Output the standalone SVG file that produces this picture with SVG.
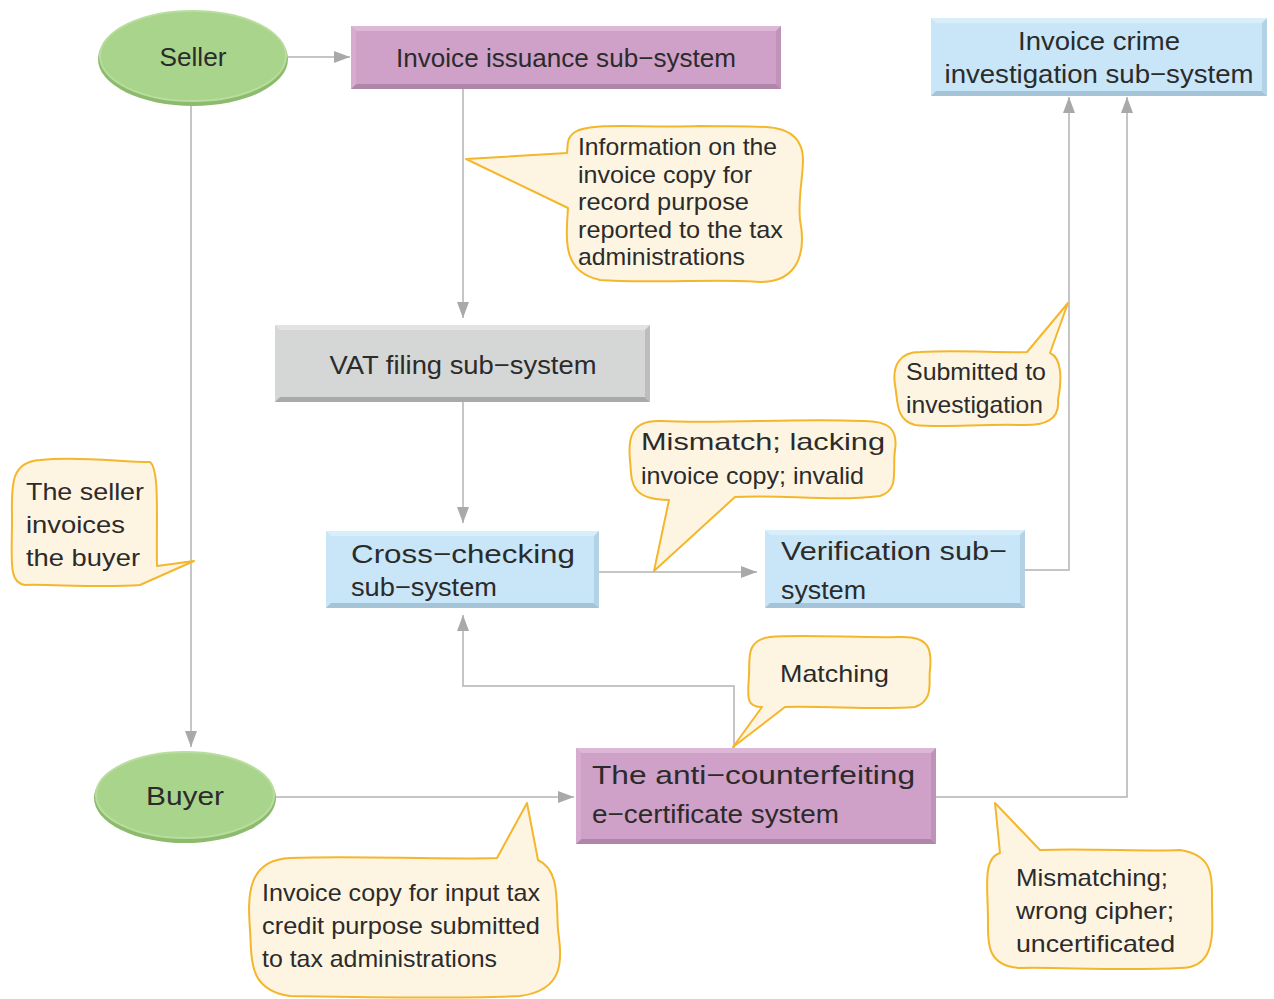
<svg xmlns="http://www.w3.org/2000/svg" width="1274" height="999" viewBox="0 0 1274 999">
<style>
text{font-family:"Liberation Sans","Noto Sans",Arial,sans-serif;fill:#2b2b2b;}
.bt{font-size:26px;}
.ct{font-size:24px;}
.conn{fill:none;stroke:#b3b3b3;stroke-width:1.5;}
.call{fill:#fef4e2;stroke:#f4b72c;stroke-width:2;stroke-linejoin:round;}
</style>
<defs>
<marker id="ah" viewBox="0 0 16 12" refX="16" refY="6" markerWidth="16" markerHeight="12" markerUnits="userSpaceOnUse" orient="auto">
<path d="M0,0 L16,6 L0,12 Z" fill="#a9a9a9"/>
</marker>
</defs>
<rect width="1274" height="999" fill="#ffffff"/>

<g id="connectors">
<path class="conn" d="M288,57 H350" marker-end="url(#ah)"/>
<path class="conn" d="M463,89 V318" marker-end="url(#ah)"/>
<path class="conn" d="M463,402 V523" marker-end="url(#ah)"/>
<path class="conn" d="M191,105 V747" marker-end="url(#ah)"/>
<path class="conn" d="M599,572 H757" marker-end="url(#ah)"/>
<path class="conn" d="M1025,570 H1069 V97" marker-end="url(#ah)"/>
<path class="conn" d="M734,748 V686 H463 V615" marker-end="url(#ah)"/>
<path class="conn" d="M276,797 H574" marker-end="url(#ah)"/>
<path class="conn" d="M936,797 H1127 V97" marker-end="url(#ah)"/>
</g>

<g id="seller">
<ellipse cx="193" cy="59" rx="95" ry="47" fill="#8dbb6d"/>
<ellipse cx="193" cy="56" rx="93" ry="45" fill="#a9d48b" stroke="#b8dd9e" stroke-width="2"/>
<text class="bt" x="193" y="66" text-anchor="middle" textLength="67" lengthAdjust="spacingAndGlyphs">Seller</text>
</g>

<g id="invoice-issuance">
<rect x="351" y="26" width="430" height="63" fill="#cfa0c8"/>
<polygon points="351,26 781,26 776,31 356,31" fill="#dcb7d6"/>
<polygon points="351,89 781,89 776,84 356,84" fill="#af85a8"/>
<polygon points="781,26 781,89 776,84 776,31" fill="#bf93b8"/>
<polygon points="351,26 351,89 356,84 356,31" fill="#d6abcf"/>
<text class="bt" x="566" y="67" text-anchor="middle" textLength="340" lengthAdjust="spacingAndGlyphs">Invoice issuance sub−system</text>
</g>

<g id="crime-investigation">
<rect x="931" y="18" width="336" height="78" fill="#c8e6f7"/>
<polygon points="931,18 1267,18 1262,23 936,23" fill="#d8eefa"/>
<polygon points="931,96 1267,96 1262,91 936,91" fill="#a5c3d6"/>
<polygon points="1267,18 1267,96 1262,91 1262,23" fill="#b4d2e5"/>
<text class="bt" x="1099" y="50" text-anchor="middle" textLength="162" lengthAdjust="spacingAndGlyphs">Invoice crime</text>
<text class="bt" x="1099" y="83" text-anchor="middle" textLength="309" lengthAdjust="spacingAndGlyphs">investigation sub−system</text>
</g>

<g id="vat-filing">
<rect x="275" y="325" width="375" height="77" fill="#d5d6d6"/>
<polygon points="275,325 650,325 645,330 280,330" fill="#e3e3e3"/>
<polygon points="275,402 650,402 645,397 280,397" fill="#a9a9a9"/>
<polygon points="650,325 650,402 645,397 645,330" fill="#bdbdbd"/>
<text class="bt" x="463" y="374" text-anchor="middle" textLength="267" lengthAdjust="spacingAndGlyphs">VAT filing sub−system</text>
</g>

<g id="cross-checking">
<rect x="326" y="531" width="273" height="77" fill="#c8e6f7"/>
<polygon points="326,531 599,531 594,536 331,536" fill="#d8eefa"/>
<polygon points="326,608 599,608 594,603 331,603" fill="#a5c3d6"/>
<polygon points="599,531 599,608 594,603 594,536" fill="#b4d2e5"/>
<text class="bt" x="351" y="563" textLength="224" lengthAdjust="spacingAndGlyphs">Cross−checking</text>
<text class="bt" x="351" y="596" textLength="146" lengthAdjust="spacingAndGlyphs">sub−system</text>
</g>

<g id="verification">
<rect x="765" y="530" width="260" height="78" fill="#c8e6f7"/>
<polygon points="765,530 1025,530 1020,535 770,535" fill="#d8eefa"/>
<polygon points="765,608 1025,608 1020,603 770,603" fill="#a5c3d6"/>
<polygon points="1025,530 1025,608 1020,603 1020,535" fill="#b4d2e5"/>
<text class="bt" x="781" y="560" textLength="226" lengthAdjust="spacingAndGlyphs">Verification sub−</text>
<text class="bt" x="781" y="599" textLength="85" lengthAdjust="spacingAndGlyphs">system</text>
</g>

<g id="anti-counterfeiting">
<rect x="576" y="748" width="360" height="96" fill="#cfa0c8"/>
<polygon points="576,748 936,748 931,753 581,753" fill="#dcb7d6"/>
<polygon points="576,844 936,844 931,839 581,839" fill="#af85a8"/>
<polygon points="936,748 936,844 931,839 931,753" fill="#bf93b8"/>
<polygon points="576,748 576,844 581,839 581,753" fill="#d6abcf"/>
<text class="bt" x="592" y="784" textLength="323" lengthAdjust="spacingAndGlyphs">The anti−counterfeiting</text>
<text class="bt" x="592" y="823" textLength="247" lengthAdjust="spacingAndGlyphs">e−certificate system</text>
</g>

<g id="buyer">
<ellipse cx="185" cy="798" rx="91" ry="45" fill="#8dbb6d"/>
<ellipse cx="185" cy="795" rx="89" ry="43" fill="#a9d48b" stroke="#b8dd9e" stroke-width="2"/>
<text class="bt" x="185" y="805" text-anchor="middle" textLength="78" lengthAdjust="spacingAndGlyphs">Buyer</text>
</g>

<g id="callout-info">
<path class="call" d="M567,153 L466,159 L568,208 C566,240 562,272 600,280 C650,284 720,278 760,282 C800,282 806,250 800,220 C797,190 808,160 800,145 C790,122 760,127 700,126 C640,128 590,122 575,132 C566,138 568,145 567,153 Z"/>
<text class="ct" x="578" y="155" textLength="199" lengthAdjust="spacingAndGlyphs">Information on the</text>
<text class="ct" x="578" y="183" textLength="174" lengthAdjust="spacingAndGlyphs">invoice copy for</text>
<text class="ct" x="578" y="210" textLength="171" lengthAdjust="spacingAndGlyphs">record purpose</text>
<text class="ct" x="578" y="238" textLength="205" lengthAdjust="spacingAndGlyphs">reported to the tax</text>
<text class="ct" x="578" y="265" textLength="167" lengthAdjust="spacingAndGlyphs">administrations</text>
</g>

<g id="callout-seller-invoices">
<path class="call" d="M40,460 C80,456 120,462 150,462 C160,470 156,520 157,566 L194,561 L140,585 C100,588 50,584 25,585 C8,583 12,560 12,520 C12,490 8,462 40,460 Z"/>
<text class="ct" x="26" y="500" textLength="118" lengthAdjust="spacingAndGlyphs">The seller</text>
<text class="ct" x="26" y="533" textLength="99" lengthAdjust="spacingAndGlyphs">invoices</text>
<text class="ct" x="26" y="566" textLength="114" lengthAdjust="spacingAndGlyphs">the buyer</text>
</g>

<g id="callout-mismatch">
<path class="call" d="M669,500 L654,571 L735,497 C780,494 830,502 880,496 C900,490 892,470 895,450 C898,430 890,420 860,421 C800,418 720,424 660,421 C630,420 628,440 630,460 C632,480 628,500 669,500 Z"/>
<text class="ct" x="641" y="450" textLength="244" lengthAdjust="spacingAndGlyphs">Mismatch; lacking</text>
<text class="ct" x="641" y="484" textLength="223" lengthAdjust="spacingAndGlyphs">invoice copy; invalid</text>
</g>

<g id="callout-submitted">
<path class="call" d="M1027,352 L1068,303 L1050,353 C1062,358 1062,380 1058,400 C1060,420 1045,426 1020,425 C980,424 940,428 915,425 C895,420 898,400 895,385 C892,365 900,352 920,352 C960,350 1000,353 1027,352 Z"/>
<text class="ct" x="906" y="380" textLength="140" lengthAdjust="spacingAndGlyphs">Submitted to</text>
<text class="ct" x="906" y="413" textLength="137" lengthAdjust="spacingAndGlyphs">investigation</text>
</g>

<g id="callout-matching">
<path class="call" d="M762,707 L733,747 L785,707 C830,706 880,710 915,707 C935,700 928,680 930,670 C932,650 930,636 900,637 C860,638 800,634 770,637 C745,640 750,660 749,675 C748,695 745,707 762,707 Z"/>
<text class="ct" x="780" y="682" textLength="109" lengthAdjust="spacingAndGlyphs">Matching</text>
</g>

<g id="callout-invoice-copy">
<path class="call" d="M497,858 L527,803 L538,860 C560,870 556,900 558,930 C562,960 565,990 520,996 C450,999 350,997 290,996 C248,990 252,960 250,930 C248,900 245,860 290,858 C360,855 430,860 497,858 Z"/>
<text class="ct" x="262" y="901" textLength="278" lengthAdjust="spacingAndGlyphs">Invoice copy for input tax</text>
<text class="ct" x="262" y="934" textLength="278" lengthAdjust="spacingAndGlyphs">credit purpose submitted</text>
<text class="ct" x="262" y="967" textLength="235" lengthAdjust="spacingAndGlyphs">to tax administrations</text>
</g>

<g id="callout-mismatching">
<path class="call" d="M1000,853 L995,803 L1040,850 C1090,848 1150,852 1180,850 C1215,855 1212,880 1212,900 C1212,930 1218,968 1180,968 C1120,971 1060,967 1020,968 C985,966 988,940 988,920 C988,890 982,858 1000,853 Z"/>
<text class="ct" x="1016" y="886" textLength="152" lengthAdjust="spacingAndGlyphs">Mismatching;</text>
<text class="ct" x="1016" y="919" textLength="158" lengthAdjust="spacingAndGlyphs">wrong cipher;</text>
<text class="ct" x="1016" y="952" textLength="159" lengthAdjust="spacingAndGlyphs">uncertificated</text>
</g>
</svg>
